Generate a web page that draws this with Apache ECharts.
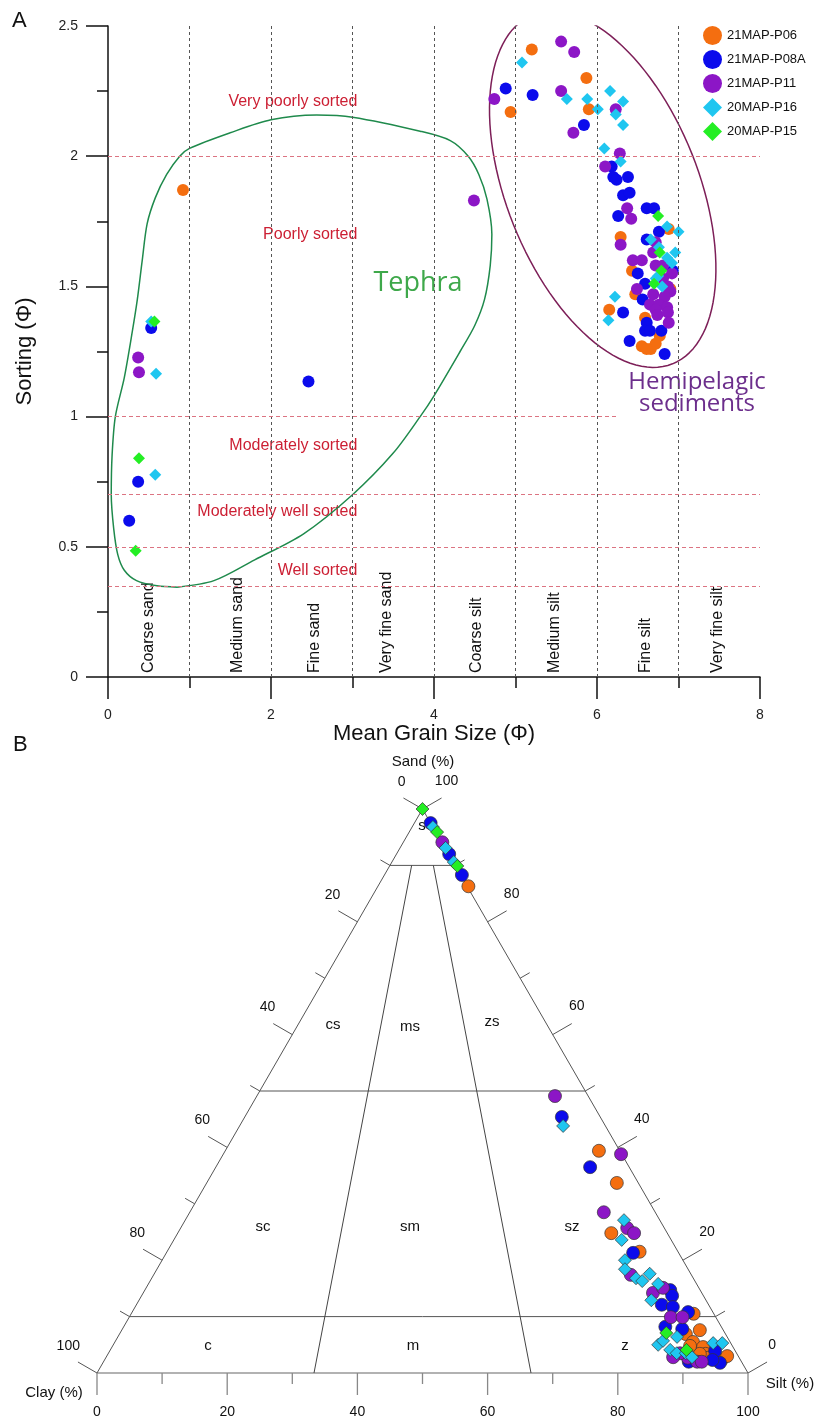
<!DOCTYPE html>
<html><head><meta charset="utf-8">
<script src="https://cdn.jsdelivr.net/npm/echarts@6/dist/echarts.min.js"></script>
<style>html,body{margin:0;padding:0;background:#fff}#c{width:820px;height:1419px}</style>
</head><body><div id="c"></div>
<script>
// ---------------- DATA ----------------
const seriesNames = ['21MAP-P06', '21MAP-P08A', '21MAP-P11', '20MAP-P16', '20MAP-P15'];

// Panel A: [mean grain size (Φ), sorting (Φ)]
const gsP06 = [[0.92,1.87],[4.94,2.17],[5.20,2.41],[5.87,2.30],[5.90,2.18],[6.29,1.69],[6.88,1.72],[6.43,1.56],[6.47,1.47],[6.90,1.49],[6.15,1.41],[6.59,1.38],[6.77,1.31],[6.55,1.27],[6.66,1.26],[6.72,1.28],[6.61,1.26]];
const gsP08A = [[0.53,1.34],[2.46,1.135],[0.37,0.75],[0.26,0.60],[4.88,2.26],[5.21,2.235],[5.84,2.12],[6.18,1.96],[6.20,1.92],[6.24,1.91],[6.38,1.92],[6.32,1.85],[6.40,1.86],[6.26,1.77],[6.61,1.80],[6.70,1.80],[6.61,1.68],[6.76,1.71],[6.50,1.55],[6.93,1.56],[6.59,1.51],[6.56,1.45],[6.32,1.40],[6.61,1.36],[6.59,1.33],[6.65,1.33],[6.79,1.33],[6.40,1.29],[6.83,1.24]];
const gsP11 = [[0.37,1.227],[0.38,1.17],[4.49,1.83],[4.74,2.22],[5.56,2.44],[5.72,2.40],[5.56,2.25],[5.71,2.09],[6.23,2.18],[6.28,2.01],[6.10,1.96],[6.37,1.80],[6.42,1.76],[6.29,1.66],[6.72,1.67],[6.69,1.63],[6.44,1.60],[6.55,1.60],[6.72,1.58],[6.81,1.58],[6.92,1.55],[6.81,1.53],[6.49,1.49],[6.87,1.50],[6.90,1.48],[6.69,1.47],[6.83,1.46],[6.65,1.43],[6.76,1.43],[6.86,1.42],[6.72,1.41],[6.74,1.39],[6.87,1.40],[6.88,1.36]];
const gsP16 = [[0.53,1.365],[0.59,1.165],[0.58,0.777],[5.08,2.36],[5.63,2.22],[5.88,2.22],[6.01,2.18],[6.16,2.25],[6.32,2.21],[6.23,2.16],[6.32,2.12],[6.09,2.03],[6.29,1.98],[6.86,1.73],[7.0,1.71],[6.66,1.68],[6.76,1.65],[6.96,1.63],[6.86,1.61],[6.92,1.59],[6.75,1.54],[6.72,1.53],[6.80,1.50],[6.22,1.46],[6.14,1.37]];
const gsP15 = [[0.57,1.365],[0.38,0.84],[0.34,0.485],[6.75,1.77],[6.77,1.63],[6.79,1.56],[6.70,1.51]];

// Panel B: [sand %, silt %]  (clay % = 100 - sand - silt)
const tP06 = [[86.3,13.9],[39.4,57.4],[33.7,63.0],[24.8,66.6],[21.5,72.6],[10.5,86.4],[7.6,88.8],[6.9,87.0],[5.5,88.8],[4.6,90.8],[3.4,91.8],[2.3,94.8],[3.0,95.3],[2.7,92.5],[3.4,90.9],[4.8,88.7]];
const tP08A = [[97.5,2.5],[92.0,8.1],[88.3,11.9],[45.4,48.7],[36.5,57.5],[21.3,71.7],[14.7,80.7],[13.7,81.5],[12.1,80.7],[11.7,82.6],[10.8,85.4],[8.2,83.2],[7.8,86.0],[3.9,93.0],[1.8,94.8],[2.3,93.4],[2.0,89.9]];
const tP11 = [[94.1,6.0],[49.1,45.8],[38.8,61.1],[28.5,63.6],[25.7,68.6],[24.8,70.1],[17.4,73.3],[14.2,78.3],[15.1,79.4],[9.9,83.2],[9.9,85.0],[2.7,89.4],[2.0,91.2],[2.0,91.9],[3.5,87.8],[2.8,87.1]];
const tP16 = [[96.8,3.2],[93.1,7.0],[90.6,9.5],[43.8,49.7],[27.1,67.4],[23.6,68.8],[20.0,71.1],[18.4,71.9],[16.8,74.4],[16.3,75.6],[17.6,76.1],[15.8,78.3],[12.9,78.7],[6.4,85.9],[5.0,83.7],[5.7,84.1],[4.1,86.0],[3.5,87.3],[3.5,88.7],[2.8,90.0],[5.3,92.0],[5.3,93.4]];
const tP15 = [[100,0],[95.9,4.3],[89.9,10.4],[7.1,83.9],[4.1,88.5]];

const sortingLimits = [2, 1, 0.7, 0.5, 0.35];
const sortingClasses = ['Very poorly sorted', 'Poorly sorted', 'Moderately sorted', 'Moderately well sorted', 'Well sorted'];
const grainLimits = [1, 2, 3, 4, 5, 6, 7];
const grainClasses = ['Coarse sand', 'Medium sand', 'Fine sand', 'Very fine sand', 'Coarse silt', 'Medium silt', 'Fine silt', 'Very fine silt'];
const ternaryTicks = [0, 10, 20, 30, 40, 50, 60, 70, 80, 90, 100];
const ternaryZones = ['s', 'cs', 'ms', 'zs', 'sc', 'sm', 'sz', 'c', 'm', 'z'];
const sandLimits = [90, 50, 10];
const siltClayRatios = [1/3, 2/3];

// Tephra field outline (Φ, Φ)
const tephraOutline = [[0.85,0.345],[1.3,0.37],[1.8,0.45],[2.4,0.55],[3.0,0.70],[3.5,0.86],[3.83,1.0],[4.0,1.08],[4.32,1.25],[4.5,1.35],[4.62,1.45],[4.69,1.58],[4.71,1.70],[4.65,1.835],[4.55,1.93],[4.42,2.0],[4.2,2.06],[3.83,2.096],[3.0,2.15],[2.56,2.158],[2.0,2.14],[1.5,2.09],[1.0,2.03],[0.88,2.0],[0.72,1.93],[0.58,1.84],[0.48,1.74],[0.42,1.6],[0.36,1.45],[0.3,1.33],[0.2,1.15],[0.09,1.0],[0.05,0.85],[0.04,0.7],[0.07,0.57],[0.12,0.47],[0.2,0.41],[0.35,0.37],[0.6,0.35],[0.85,0.345]];

// ---------------- LAYOUT / STYLE ----------------
const colors = ['#f46e10', '#0b0bec', '#8c16c6', '#1fc6f0', '#24ee24'];
const symbols = ['circle', 'circle', 'circle', 'diamond', 'diamond'];
const GA = {left: 108, top: 26, width: 652, height: 651};
const GB = {left: 97, top: 809, width: 651, height: 564};
const FONT = 'Liberation Sans, Arial, sans-serif';
const R3 = Math.sqrt(3) / 2;
const pxPerX = GA.width / 8, pxPerY = GA.height / 2.5;

const gsSets = [gsP06, gsP08A, gsP11, gsP16, gsP15];
const tSets = [tP06, tP08A, tP11, tP16, tP15];
function tern(sand, silt) { return [silt + sand / 2, sand * R3]; }

// hemipelagic ellipse (centre in data units, axes in px)
const ell = {cx: 6.07, cy: 1.873, a: 188, b: 96, theta: 68.2 * Math.PI / 180};
const ellipsePts = [];
for (let i = 0; i <= 120; i++) {
  const t = i / 120 * 2 * Math.PI;
  const dx = ell.a * Math.cos(t) * Math.cos(ell.theta) - ell.b * Math.sin(t) * Math.sin(ell.theta);
  const dy = ell.a * Math.cos(t) * Math.sin(ell.theta) + ell.b * Math.sin(t) * Math.cos(ell.theta);
  ellipsePts.push([ell.cx + dx / pxPerX, ell.cy - dy / pxPerY]);
}

const grainLabelX = [0.5, 1.59, 2.54, 3.42, 4.52, 5.48, 6.6, 7.48];
const sortingLabelY = [2.21, 1.70, 0.89, 0.635, 0.41];

const series = [];
// reference lines panel A
series.push({
  type: 'line', xAxisIndex: 0, yAxisIndex: 0, data: [], z: 1, silent: true,
  markLine: {
    silent: true, symbol: 'none', animation: false, label: {show: false},
    lineStyle: {color: '#555', type: [3, 3], width: 1},
    data: grainLimits.map(v => ({xAxis: v}))
  }
});
series.push({
  type: 'line', xAxisIndex: 0, yAxisIndex: 0, data: [], z: 1, silent: true,
  markLine: {
    silent: true, symbol: 'none', animation: false, label: {show: false},
    lineStyle: {color: '#dc7482', type: [4, 3], width: 1},
    data: sortingLimits.map(v => [{coord: [0, v]}, {coord: [v === 1 ? 6.25 : 8, v]}])
  }
});
// field outlines
series.push({type: 'line', xAxisIndex: 0, yAxisIndex: 0, data: tephraOutline, smooth: 0.3, showSymbol: false, symbol: 'none', silent: true, z: 2, lineStyle: {color: '#1f8a4c', width: 1.5}});
series.push({type: 'line', xAxisIndex: 0, yAxisIndex: 0, data: ellipsePts, showSymbol: false, symbol: 'none', silent: true, z: 2, lineStyle: {color: '#7d1f58', width: 1.5}});

// panel A text labels
series.push({
  type: 'custom', xAxisIndex: 0, yAxisIndex: 0, data: [[0, 0]], silent: true, z: 2,
  renderItem: function (params, api) {
    const ch = [];
    grainClasses.forEach((g, i) => {
      const p = api.coord([grainLabelX[i], 0.015]);
      ch.push({type: 'text', x: p[0], y: p[1], rotation: Math.PI / 2,
        style: {text: g, fill: '#111', fontSize: 16, fontFamily: FONT, align: 'left', verticalAlign: 'middle'}});
    });
    sortingClasses.forEach((s, i) => {
      const p = api.coord([3.06, sortingLabelY[i]]);
      ch.push({type: 'text', x: p[0], y: p[1],
        style: {text: s, fill: '#cc1f33', fontSize: 16, fontFamily: FONT, align: 'right', verticalAlign: 'middle'}});
    });
    return {type: 'group', children: ch};
  }
});

// scatter panel A
gsSets.forEach((d, i) => {
  series.push({
    name: seriesNames[i], type: 'scatter', xAxisIndex: 0, yAxisIndex: 0, data: d, z: 3,
    symbol: symbols[i], symbolSize: 12,
    itemStyle: {color: colors[i], opacity: 1}
  });
});

// ternary frame
series.push({
  type: 'custom', xAxisIndex: 1, yAxisIndex: 1, data: [[0, 0]], silent: true, z: 1,
  renderItem: function (params, api) {
    const P = (s, z) => api.coord(tern(s, z));
    const ch = [];
    const ln = (a, b, col, w) => ch.push({type: 'line', shape: {x1: a[0], y1: a[1], x2: b[0], y2: b[1]}, style: {stroke: col || '#555', lineWidth: w || 1}});
    const tx = (t, x, y, size, al, va) => ch.push({type: 'text', x: x, y: y, style: {text: t, fill: '#111', fontSize: size || 14, fontFamily: FONT, align: al || 'center', verticalAlign: va || 'middle'}});
    // edges
    ln(P(0, 0), P(0, 100), '#999', 1.5);
    ln(P(0, 0), P(100, 0), '#555', 1);
    ln(P(0, 100), P(100, 0), '#555', 1);
    // internal boundaries
    sandLimits.forEach(s => ln(P(s, 0), P(s, 100 - s), '#555', 1));
    siltClayRatios.forEach(r => ln(P(0, 100 * r), P(90, 10 * r), '#444', 1));
    // ticks
    const cx = Math.cos(Math.PI / 6), sy = 0.5;
    ternaryTicks.forEach(v => {
      const L = v % 20 === 0 ? 22 : 11;
      const b = P(0, v);
      ln(b, [b[0], b[1] + L], '#888', 1.3);
      const l = P(100 - v, 0);
      const le = [l[0] - cx * L, l[1] - sy * L];
      ln(l, le, '#555', 1);
      const r = P(v, 100 - v);
      const re = [r[0] + cx * L, r[1] - sy * L];
      ln(r, re, '#555', 1);
      if (v % 20 === 0) {
        tx(String(v), b[0], b[1] + 39, 14);
        tx(String(v), le[0] + 2, le[1] - 16, 14, 'right');
        tx(String(v), re[0] + 5, re[1] - 17, 14);
      }
    });
    return {type: 'group', children: ch};
  }
});

// scatter panel B
tSets.forEach((d, i) => {
  series.push({
    name: seriesNames[i], type: 'scatter', xAxisIndex: 1, yAxisIndex: 1, z: 3,
    data: d.map(p => tern(p[0], p[1])),
    symbol: symbols[i], symbolSize: 13,
    itemStyle: {color: colors[i], opacity: 1, borderColor: '#333', borderWidth: 0.7}
  });
});

const zonePos = {s: [422, 826], cs: [333, 1025], ms: [410, 1027], zs: [492, 1022], sc: [263, 1227], sm: [410, 1227], sz: [572, 1227], c: [208, 1346], m: [413, 1346], z: [625, 1346]};
const graphics = [
  {type: 'text', left: 12, top: 10, style: {text: 'A', fontSize: 22, fontFamily: FONT, fill: '#111'}},
  {type: 'text', left: 13, top: 734, style: {text: 'B', fontSize: 22, fontFamily: FONT, fill: '#111'}},
  {type: 'text', x: 418, y: 283, style: {text: 'Tephra', fontSize: 27, fontFamily: 'Open Sans, sans-serif', fill: '#3ea84a', align: 'center', verticalAlign: 'middle'}},
  {type: 'text', x: 697, y: 393, style: {text: 'Hemipelagic\nsediments', fontSize: 24, lineHeight: 22, fontFamily: 'Open Sans, sans-serif', fill: '#6c2e8c', align: 'center', verticalAlign: 'middle'}},
  {type: 'text', x: 423, y: 762, style: {text: 'Sand (%)', fontSize: 15, fontFamily: FONT, fill: '#111', align: 'center', verticalAlign: 'middle'}},
  {type: 'text', x: 54, y: 1393, style: {text: 'Clay (%)', fontSize: 15, fontFamily: FONT, fill: '#111', align: 'center', verticalAlign: 'middle'}},
  {type: 'text', x: 790, y: 1384, style: {text: 'Silt (%)', fontSize: 15, fontFamily: FONT, fill: '#111', align: 'center', verticalAlign: 'middle'}}
];
ternaryZones.forEach(z => graphics.push({type: 'text', x: zonePos[z][0], y: zonePos[z][1], style: {text: z, fontSize: 15, fontFamily: FONT, fill: '#111', align: 'center', verticalAlign: 'middle'}}));

const axisCommon = {
  axisLine: {show: true, onZero: false, lineStyle: {color: '#111', width: 1.5}},
  axisTick: {show: true, inside: false, length: 22, lineStyle: {color: '#111', width: 1.5}},
  minorTick: {show: true, splitNumber: 2, length: 11, lineStyle: {color: '#111', width: 1.5}},
  splitLine: {show: false}, minorSplitLine: {show: false},
  axisLabel: {color: '#222', fontSize: 14, fontFamily: FONT},
  nameTextStyle: {color: '#111', fontSize: 22, fontFamily: FONT}
};

const chart = echarts.init(document.getElementById('c'), null, {renderer: 'canvas'});
chart.setOption({
  animation: false,
  backgroundColor: '#fff',
  grid: [
    Object.assign({}, GA, {containLabel: false}),
    Object.assign({}, GB, {containLabel: false})
  ],
  xAxis: [
    Object.assign({}, axisCommon, {type: 'value', gridIndex: 0, min: 0, max: 8, interval: 2,
      axisLabel: Object.assign({}, axisCommon.axisLabel, {margin: 31}),
      name: 'Mean Grain Size (Φ)', nameLocation: 'middle', nameGap: 45}),
    {type: 'value', gridIndex: 1, min: 0, max: 100, show: false}
  ],
  yAxis: [
    Object.assign({}, axisCommon, {type: 'value', gridIndex: 0, min: 0, max: 2.5, interval: 0.5,
      axisLabel: Object.assign({}, axisCommon.axisLabel, {margin: 30}),
      name: 'Sorting (Φ)', nameLocation: 'middle', nameGap: 72}),
    {type: 'value', gridIndex: 1, min: 0, max: 100 * R3, show: false}
  ],
  legend: {
    data: seriesNames, orient: 'vertical', left: 703, top: 26, padding: 0,
    itemWidth: 19, itemHeight: 19, itemGap: 5,
    textStyle: {fontSize: 13, fontFamily: FONT, color: '#111'}
  },
  graphic: graphics,
  series: series
});
</script></body></html>
